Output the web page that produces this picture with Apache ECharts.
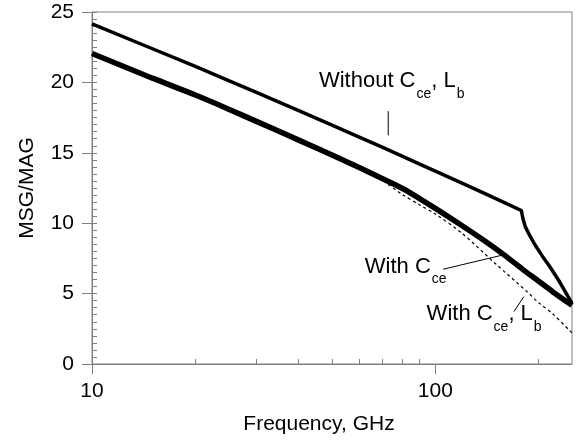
<!DOCTYPE html>
<html><head><meta charset="utf-8">
<script src="https://cdn.jsdelivr.net/npm/echarts@6.0.0/dist/echarts.min.js"></script>
<style>html,body{margin:0;padding:0;background:#fff}#c{width:578px;height:440px}</style>
</head><body><div id="c"></div>
<script>
// ---- data ----
const xMajorTicks = [10, 100];
const xMinorTicks = [20, 30, 40, 50, 60, 70, 80, 90, 200];

const withoutFreq = [10, 15, 20, 25, 30, 40, 50, 60, 70, 80, 90, 100, 120, 140, 160, 178, 180, 183, 188, 195, 205, 215, 230, 250];
const withoutGain = [24.15, 22.39, 21.13, 20.13, 19.31, 18.0, 16.97, 16.12, 15.4, 14.77, 14.2, 13.7, 12.83, 12.08, 11.43, 10.9, 10.3, 9.72, 9.16, 8.47, 7.66, 6.94, 5.84, 4.3];

const withCeFreq = [10, 15, 20, 25, 30, 40, 50, 60, 70, 80, 90, 100, 120, 140, 160, 180, 200, 220, 250];
const withCeGain = [22.05, 20.3, 19.1, 18.1, 17.25, 15.9, 14.84, 13.95, 13.17, 12.48, 11.75, 11.05, 9.8, 8.7, 7.68, 6.7, 5.88, 5.12, 4.17];

const withCeLbFreq = [10, 20, 40, 60, 70, 80, 90, 100, 120, 150, 185, 200, 220, 250];
const withCeLbGain = [22.05, 19.1, 15.9, 13.95, 13.05, 12.05, 11.3, 10.65, 9.25, 7.1, 5.13, 4.35, 3.55, 2.2];

// annotation anchors (data coords) and pointer lines
const labelTexts = ['{m|Without C}{s|ce}{m|, L}{s|b}', '{m|With C}{s|ce}', '{m|With C}{s|ce}{m|, L}{s|b}'];
const labelFreq = [45.8, 62.3, 94.3];
const labelGain = [20.88, 7.70, 4.31];
const pointer1Freq = [72.9, 72.9];   const pointer1Gain = [17.96, 16.24];
const pointer2Freq = [105.4, 155.8]; const pointer2Gain = [6.73, 7.72];
const pointer3Freq = [169.3, 181];   const pointer3Gain = [3.72, 4.78];

const zip = (a, b) => a.map((v, i) => [v, b[i]]);
const FONT = "'Liberation Sans', Arial, sans-serif";
const AX = '#808080';

const chart = echarts.init(document.getElementById('c'), null, {renderer: 'canvas'});
const pointerSeries = (f, g) => ({
  type: 'line', xAxisIndex: 0, yAxisIndex: 0, data: zip(f, g), showSymbol: false, silent: true,
  lineStyle: {color: '#000', width: 1}, z: 5
});
chart.setOption({
  animation: false,
  backgroundColor: '#fff',
  grid: {left: 92, right: 6, top: 12, bottom: 74, show: true, borderColor: AX, borderWidth: 1},
  xAxis: [{
    type: 'log', logBase: 10, min: 10, max: 250, position: 'bottom',
    axisLine: {onZero: false, lineStyle: {color: AX, width: 1}},
    axisTick: {show: true, inside: false, length: 10, customValues: xMajorTicks, lineStyle: {color: AX}},
    axisLabel: {customValues: xMajorTicks, margin: 17, fontSize: 21, color: '#000', fontFamily: FONT},
    splitLine: {show: false}, minorTick: {show: false},
    name: 'Frequency, GHz', nameLocation: 'middle', nameGap: 50,
    nameTextStyle: {fontSize: 21, color: '#000', fontFamily: FONT, padding: [0, 26, 0, 0]}
  }, {
    type: 'log', logBase: 10, min: 10, max: 250, position: 'bottom',
    axisLine: {show: false, onZero: false},
    axisTick: {show: true, inside: true, length: 5, customValues: xMinorTicks, lineStyle: {color: AX}},
    axisLabel: {show: false}, splitLine: {show: false}
  }],
  yAxis: [{
    type: 'value', min: 0, max: 25, interval: 5, position: 'left',
    axisLine: {show: true, onZero: false, lineStyle: {color: AX, width: 1}},
    axisTick: {show: true, inside: false, length: 10, lineStyle: {color: AX}},
    axisLabel: {margin: 18, fontSize: 21, color: '#000', fontFamily: FONT},
    splitLine: {show: false},
    name: 'MSG/MAG', nameLocation: 'middle', nameGap: 54, nameRotate: 90,
    nameTextStyle: {fontSize: 21, color: '#000', fontFamily: FONT}
  }, {
    type: 'value', min: 0, max: 25, interval: 0.5, position: 'left',
    axisLine: {show: false, onZero: false},
    axisTick: {show: true, inside: true, length: 5, lineStyle: {color: AX}},
    axisLabel: {show: false}, splitLine: {show: false}
  }],
  series: [
    {type: 'line', name: 'With Cce, Lb', xAxisIndex: 0, yAxisIndex: 0, data: zip(withCeLbFreq, withCeLbGain),
     showSymbol: false, smooth: 0.3, lineStyle: {color: '#000', width: 1.2, type: [3, 3]}, z: 2},
    {type: 'line', name: 'With Cce', xAxisIndex: 0, yAxisIndex: 0, data: zip(withCeFreq, withCeGain),
     showSymbol: false, smooth: 0.3, lineStyle: {color: '#000', width: 5.5}, z: 3},
    {type: 'line', name: 'Without Cce, Lb', xAxisIndex: 0, yAxisIndex: 0, data: zip(withoutFreq, withoutGain),
     showSymbol: false, smooth: false, lineStyle: {color: '#000', width: 3.5, join: 'round'}, z: 4},
    pointerSeries(pointer1Freq, pointer1Gain),
    pointerSeries(pointer2Freq, pointer2Gain),
    pointerSeries(pointer3Freq, pointer3Gain)
  ]
});

const rich = {
  m: {fontSize: 22, fontFamily: FONT, fill: '#000', lineHeight: 22, verticalAlign: 'top'},
  s: {fontSize: 14, fontFamily: FONT, fill: '#000', lineHeight: 14, verticalAlign: 'top', padding: [17, 0, 0, 1]}
};
const graphics = labelTexts.map((t, i) => {
  const p = chart.convertToPixel({xAxisIndex: 0, yAxisIndex: 0}, [labelFreq[i], labelGain[i]]);
  return {type: 'text', x: p[0], y: p[1], z: 10,
    style: {text: t, rich: rich, align: 'left', verticalAlign: 'top', fill: '#000', fontFamily: FONT, fontSize: 22}};
});
chart.setOption({graphic: graphics});
</script>
</body></html>
